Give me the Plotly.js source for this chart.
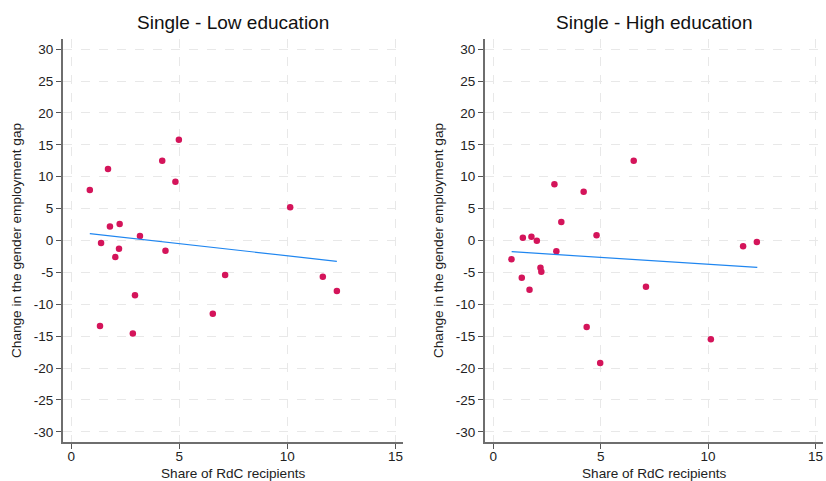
<!DOCTYPE html>
<html>
<head>
<meta charset="utf-8">
<script src="https://cdn.plot.ly/plotly-3.0.1.min.js"></script>
<style>html,body{margin:0;padding:0;background:#fff;}#chart{width:826px;height:481px;}</style>
</head>
<body>
<div id="chart"></div>
<script>
// Share of RdC recipients (x) for each unit
const shareLow  = [0.86, 1.33, 1.38, 1.70, 1.79, 2.04, 2.21, 2.24, 2.85, 2.95, 3.18, 4.21, 4.36, 4.82, 4.98, 6.55, 7.12, 10.13, 11.64, 12.29];
const gapLow    = [7.9, -13.4, -0.4, 11.2, 2.2, -2.6, -1.3, 2.6, -14.6, -8.6, 0.7, 12.5, -1.6, 9.2, 15.8, -11.5, -5.4, 5.2, -5.7, -7.9];
const shareHigh = [0.85, 1.33, 1.38, 1.69, 1.78, 2.03, 2.20, 2.24, 2.85, 2.94, 3.17, 4.21, 4.35, 4.81, 4.98, 6.54, 7.11, 10.13, 11.63, 12.27];
const gapHigh   = [-2.95, -5.84, 0.44, -7.72, 0.60, -0.03, -4.27, -4.90, 8.82, -1.69, 2.90, 7.66, -13.57, 0.82, -19.22, 12.52, -7.25, -15.50, -0.91, -0.24];
// Fitted line endpoints
const fitX    = [0.86, 12.29];
const fitLow  = [1.07, -3.26];
const fitHigh = [-1.76, -4.21];
const titles  = ["Single - Low education", "Single - High education"];
const xTitle  = "Share of RdC recipients";
const yTitle  = "Change in the gender employment gap";
const xTicks  = [0, 5, 10, 15];
const yTicks  = [-30, -25, -20, -15, -10, -5, 0, 5, 10, 15, 20, 25, 30];

const dotColor = "#d4145a";
const lineColor = "#1f86f0";
const FONT = "Liberation Sans, Arial, Helvetica, sans-serif";

const traces = [
  {x: shareLow, y: gapLow, type: "scatter", mode: "markers", xaxis: "x", yaxis: "y",
   marker: {color: dotColor, size: 6.5}, cliponaxis: false},
  {x: fitX, y: fitLow, type: "scatter", mode: "lines", xaxis: "x", yaxis: "y",
   line: {color: lineColor, width: 1.2}},
  {x: shareHigh, y: gapHigh, type: "scatter", mode: "markers", xaxis: "x2", yaxis: "y2",
   marker: {color: dotColor, size: 6.5}, cliponaxis: false},
  {x: fitX, y: fitHigh, type: "scatter", mode: "lines", xaxis: "x2", yaxis: "y2",
   line: {color: lineColor, width: 1.2}}
];

function xaxis(domain, anchor) {
  return {
    domain: domain, anchor: anchor, range: [-0.38, 15.35],
    tickvals: xTicks, ticktext: xTicks.map(String),
    ticks: "outside", ticklen: 5, tickcolor: "#555", tickwidth: 1,
    ticklabelstandoff: -4,
    showline: true, linecolor: "#6e6e6e", linewidth: 2,
    showgrid: true, gridcolor: "#e8e8e8", griddash: "dash", gridwidth: 1,
    zeroline: false,
    tickfont: {family: FONT, size: 13.5, color: "#222"}
  };
}
function yaxis(anchor) {
  return {
    domain: [0.081, 0.919], anchor: anchor, range: [-31.6, 31.6],
    tickvals: yTicks, ticktext: yTicks.map(String),
    ticks: "outside", ticklen: 5, tickcolor: "#555", tickwidth: 1,
    showline: true, linecolor: "#6e6e6e", linewidth: 2,
    showgrid: true, gridcolor: "#e8e8e8", griddash: "dash", gridwidth: 1,
    zeroline: false,
    tickfont: {family: FONT, size: 13.5, color: "#222"},
    title: {text: yTitle, font: {family: FONT, size: 13.6, color: "#222"}, standoff: 9}
  };
}

const d1 = [0.0763, 0.4879], d2 = [0.5872, 0.9964];
function ann(text, x, y, size) {
  return {text: text, xref: "paper", yref: "paper", x: x, y: y,
    xanchor: "center", yanchor: "middle", showarrow: false,
    font: {family: FONT, size: size, color: size > 15 ? "#111" : "#222"}};
}

const layout = {
  width: 826, height: 481,
  margin: {l: 0, r: 0, t: 0, b: 0},
  paper_bgcolor: "#fff", plot_bgcolor: "#fff",
  showlegend: false,
  xaxis: xaxis(d1, "y"),
  yaxis: yaxis("x"),
  xaxis2: xaxis(d2, "y2"),
  yaxis2: yaxis("x2"),
  annotations: [
    ann(titles[0], (d1[0] + d1[1]) / 2, 0.954, 19),
    ann(titles[1], (d2[0] + d2[1]) / 2, 0.954, 19),
    ann(xTitle, (d1[0] + d1[1]) / 2, 0.0166, 13.6),
    ann(xTitle, (d2[0] + d2[1]) / 2, 0.0166, 13.6)
  ]
};

Plotly.newPlot("chart", traces, layout, {staticPlot: true, displayModeBar: false});
</script>
</body>
</html>
